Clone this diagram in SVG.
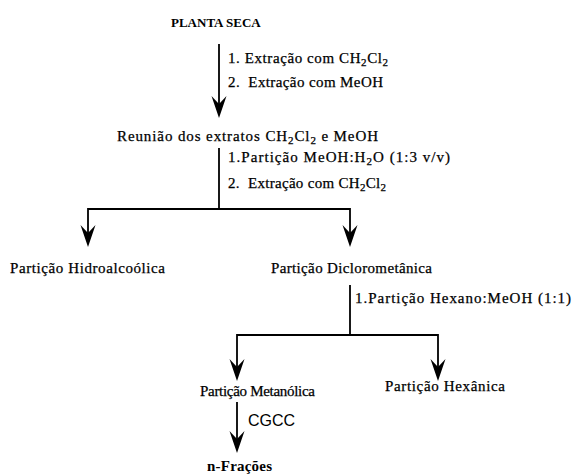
<svg xmlns="http://www.w3.org/2000/svg" width="573" height="476" viewBox="0 0 573 476">
<defs>
<style>
.t{font-family:"Liberation Serif","Times New Roman",serif;font-size:15px;fill:#000;stroke:#000;stroke-width:0.25}
.b{font-family:"Liberation Serif","Times New Roman",serif;font-weight:bold;fill:#000}
.s{font-family:"Liberation Sans",Arial,sans-serif;font-size:16px;fill:#000}
.ln{fill:none;stroke:#000;stroke-width:1.8}
.ah{fill:#000}
</style>
<path id="arr" class="ah" d="M0,0 L-7.5,-22 L0,-14 L7.5,-22 Z"/>
</defs>
<g id="connectors">
<line class="ln" x1="219" y1="44" x2="219" y2="110"/>
<use href="#arr" x="219" y="118"/>
<polyline class="ln" points="219,148 219,209"/>
<polyline class="ln" points="88,240 88,209 350,209 350,240"/>
<use href="#arr" x="88" y="247"/>
<use href="#arr" x="350" y="247"/>
<polyline class="ln" points="350,285 350,335"/>
<polyline class="ln" points="237,374 237,335 438,335 438,374"/>
<use href="#arr" x="237" y="381"/>
<use href="#arr" x="438" y="381"/>
<line class="ln" x1="237" y1="402" x2="237" y2="445"/>
<use href="#arr" x="237" y="453"/>
</g>
<g id="labels">
<text class="t" x="228" y="63" textLength="160" lengthAdjust="spacing">1. Extração com CH<tspan font-size="11" dy="3">2</tspan><tspan dy="-3">Cl</tspan><tspan font-size="11" dy="3">2</tspan></text>
<text class="t" x="228" y="87" textLength="155" lengthAdjust="spacing" xml:space="preserve">2.  Extração com MeOH</text>
<text class="t" x="228" y="162" textLength="222" lengthAdjust="spacing">1.Partição MeOH:H<tspan font-size="11" dy="3">2</tspan><tspan dy="-3">O (1:3 v/v)</tspan></text>
<text class="t" x="228" y="188" textLength="158" lengthAdjust="spacing" xml:space="preserve">2.  Extração com CH<tspan font-size="11" dy="3">2</tspan><tspan dy="-3">Cl</tspan><tspan font-size="11" dy="3">2</tspan></text>
<text class="t" x="355" y="303" textLength="216" lengthAdjust="spacing">1.Partição Hexano:MeOH (1:1)</text>
<text class="s" x="248" y="426">CGCC</text>
</g>
<g id="n-planta"><text class="b" x="171" y="27" font-size="13">PLANTA SECA</text></g>
<g id="n-reuniao"><text class="t" x="117" y="141" textLength="261" lengthAdjust="spacing">Reunião dos extratos CH<tspan font-size="11" dy="3">2</tspan><tspan dy="-3">Cl</tspan><tspan font-size="11" dy="3">2</tspan><tspan dy="-3"> e MeOH</tspan></text></g>
<g id="n-hidro"><text class="t" x="10" y="273" textLength="155" lengthAdjust="spacing">Partição Hidroalcoólica</text></g>
<g id="n-diclo"><text class="t" x="271" y="273" textLength="161" lengthAdjust="spacing">Partição Diclorometânica</text></g>
<g id="n-metan"><text class="t" x="200" y="396" textLength="115" lengthAdjust="spacing">Partição Metanólica</text></g>
<g id="n-hexan"><text class="t" x="385" y="391" textLength="120" lengthAdjust="spacing">Partição Hexânica</text></g>
<g id="n-fracoes"><text class="b" x="207" y="471" font-size="15" textLength="65" lengthAdjust="spacing">n-Frações</text></g>
</svg>
